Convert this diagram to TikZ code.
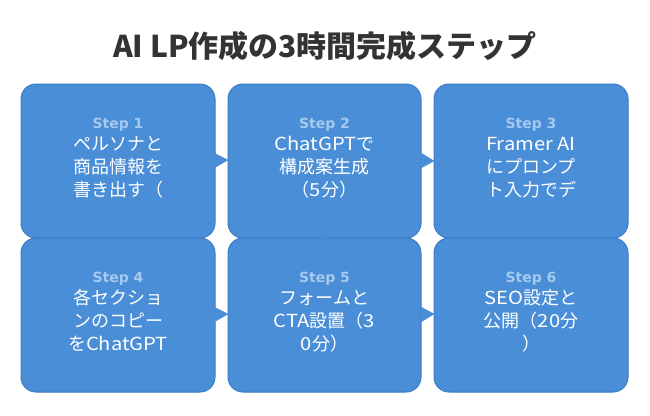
\documentclass[tikz,border=0pt]{standalone}
\usepackage{fontspec}
\setmainfont{Noto Sans CJK JP}
\newfontfamily\lblfont{DejaVu Sans}
\newfontfamily\latinfont{Noto Sans CJK JP}[FakeStretch=1.12]
\definecolor{boxblue}{HTML}{4A8ED8}
\definecolor{boxedge}{HTML}{3B7CC6}
\definecolor{lblblue}{HTML}{A6C9F0}
\definecolor{titlegray}{HTML}{333333}
\newcommand\lt[1]{{\latinfont #1}}
\tikzset{
  stepbox/.style={draw=boxedge, fill=boxblue, line width=1pt, rounded corners=15pt},
  steplbl/.style={anchor=base, inner sep=0pt, text=lblblue, font=\lblfont\fontsize{14}{16}\selectfont\bfseries},
  steptxt/.style={anchor=base, inner sep=0pt, text=white, font=\fontsize{18}{21}\selectfont},
  flowtri/.style={fill=boxblue, draw=boxblue, line width=0.4pt},
}
\newcommand\stepcontent[7]{%
  \node[steplbl] (#1l) at (#2,#3) {#4};
  \node[steptxt] (#1a) at (#2,#3+22) {#5};
  \node[steptxt] (#1b) at (#2,#3+45) {#6};
  \node[steptxt] (#1c) at (#2,#3+68) {#7};
}
\begin{document}
\begin{tikzpicture}[x=1pt,y=-1pt]
\useasboundingbox (0,0) rectangle (650,415);
\fill[white] (0,0) rectangle (650,415);
\node[anchor=base, inner sep=0pt, text=titlegray, font=\fontsize{30}{34}\selectfont\bfseries] (title) at (325,57) {AI LP作成の3時間完成ステップ};
% row 1
\draw[stepbox] (21,84) rectangle (215,238);
\draw[stepbox] (228,84) rectangle (421,238);
\draw[stepbox] (434,84) rectangle (628,238);
% row 2
\draw[stepbox] (21,238) rectangle (215,392);
\draw[stepbox] (228,238) rectangle (421,392);
\draw[stepbox] (434,238) rectangle (628,392);
% flow triangles
\fill[flowtri] (214,153) -- (214,168) -- (228,160) -- cycle;
\fill[flowtri] (421,153) -- (421,168) -- (434,161) -- cycle;
\fill[flowtri] (214,307) -- (214,322) -- (228,314) -- cycle;
\fill[flowtri] (421,307) -- (421,322) -- (434,314) -- cycle;
\fill[flowtri] (319,235) -- (331,235) -- (325,240) -- cycle;
% texts
\stepcontent{sa}{118}{128}{Step 1}{ペルソナと}{商品情報を}{書き出す（}
\stepcontent{sb}{324.5}{128}{Step 2}{\lt{ChatGPT}で}{構成案生成}{（\lt{5}分）}
\stepcontent{sc}{531}{128}{Step 3}{\lt{Framer AI}}{にプロンプ}{ト入力でデ}
\stepcontent{sd}{118}{282}{Step 4}{各セクショ}{ンのコピー}{を\lt{ChatGPT}}
\stepcontent{se}{324.5}{282}{Step 5}{フォームと}{\lt{CTA}設置（\lt{3}}{\lt{0}分）}
\stepcontent{sf}{531}{282}{Step 6}{\lt{SEO}設定と}{公開（\lt{20}分}{）}
\end{tikzpicture}
\end{document}
